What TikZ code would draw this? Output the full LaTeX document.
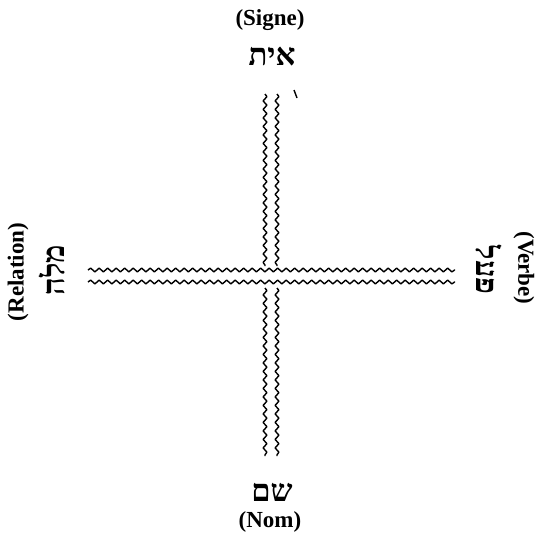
\documentclass[tikz,border=0pt]{standalone}
\usepackage{fontspec}
\setmainfont{Liberation Serif}
\newfontfamily\hebfont[Script=Hebrew]{Liberation Serif}
\TeXXeTstate=1
\usetikzlibrary{decorations.pathmorphing}
\begin{document}
\begin{tikzpicture}[x=1pt,y=-1pt,
  wavy/.style={line width=1.4pt,line join=round,decorate,decoration={snake,amplitude=1.9pt,segment length=8.5pt}},
  lab/.style={font=\fontsize{23}{26}\selectfont\bfseries,inner sep=0pt},
  heb/.style={font=\fontsize{31}{33}\selectfont\bfseries\hebfont,inner sep=0pt}]
\useasboundingbox (0,0) rectangle (540,536);
% labels
\node[lab] (signe) at (270,20) {(Signe)};
\node[heb] (ot) at (272,57) {\beginR אית\endR};
\node[heb] (shem) at (272,492) {\beginR שם\endR};
\node[lab] (nom) at (270,522) {(Nom)};
\node[lab,rotate=90] (relation) at (18,272) {(Relation)};
\node[heb,rotate=90] (mila) at (52,270) {\beginR מלה\endR};
\node[heb,rotate=-90] (poal) at (489,270) {\beginR פעל\endR};
\node[lab,rotate=-90] (verbe) at (524,268) {(Verbe)};
% line ends
\coordinate (vlt) at (265,94);  \coordinate (vlm) at (265,266);
\coordinate (vrt) at (277,94);  \coordinate (vrm) at (277,266);
\coordinate (vlb) at (265,456); \coordinate (vln) at (265,288);
\coordinate (vrb) at (277,456); \coordinate (vrn) at (277,288);
\coordinate (hul) at (88,270);  \coordinate (hur) at (455,270);
\coordinate (hdl) at (88,282);  \coordinate (hdr) at (455,282);
\draw[wavy] (vlt) -- (vlm);
\draw[wavy] (vrt) -- (vrm);
\draw[wavy] (vln) -- (vlb);
\draw[wavy] (vrn) -- (vrb);
\draw[wavy] (hul) -- (hur);
\draw[wavy] (hdl) -- (hdr);
% stray mark
\coordinate (ta) at (294,90); \coordinate (tb) at (297,98);
\draw[line width=1.4pt] (ta) -- (tb);
\end{tikzpicture}
\end{document}
